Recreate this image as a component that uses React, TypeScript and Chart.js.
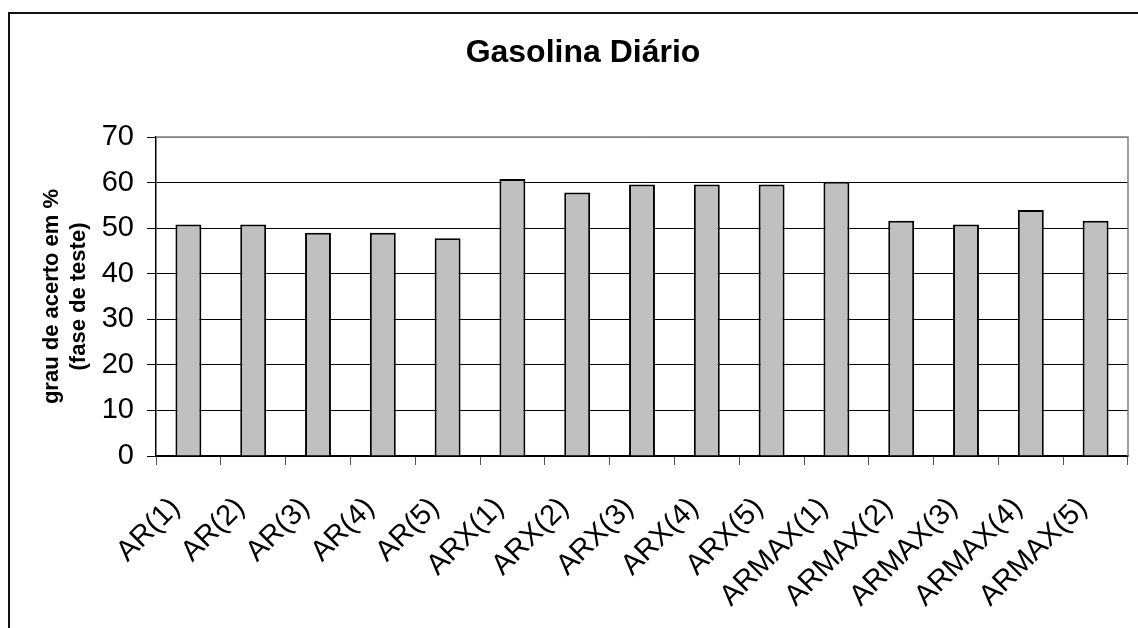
import React, { useEffect, useRef } from "react";
import { Chart, registerables } from "chart.js";

Chart.register(...registerables);

const chartTitle = "Gasolina Diário";
const yTitleLines = ["grau de acerto em %", "(fase de teste)"];
const categories = [
  "AR(1)", "AR(2)", "AR(3)", "AR(4)", "AR(5)",
  "ARX(1)", "ARX(2)", "ARX(3)", "ARX(4)", "ARX(5)",
  "ARMAX(1)", "ARMAX(2)", "ARMAX(3)", "ARMAX(4)", "ARMAX(5)",
];
const accuracy = [50.8, 50.8, 49.0, 49.0, 47.8, 60.8, 57.8, 59.6, 59.6, 59.6, 60.2, 51.6, 50.8, 54.0, 51.6];
const yMin = 0;
const yMax = 70;
const yStep = 10;

const FONT = "'Liberation Sans', Arial, sans-serif";

// Title text and the grey frame on the top/right of the plot area
const framePlugin = {
  id: "frameAndTitle",
  afterDraw(chart: any) {
    const { ctx, chartArea } = chart;
    ctx.save();
    ctx.strokeStyle = "#808080";
    ctx.lineWidth = 1.5;
    ctx.beginPath();
    ctx.moveTo(chartArea.left, chartArea.top);
    ctx.lineTo(chartArea.right, chartArea.top);
    ctx.lineTo(chartArea.right, chartArea.bottom);
    ctx.stroke();

    ctx.fillStyle = "#000";
    ctx.font = `bold 32px ${FONT}`;
    ctx.textAlign = "center";
    ctx.textBaseline = "middle";
    ctx.fillText(chartTitle, 583, 53);
    ctx.restore();
  },
};

export default function App() {
  const canvasRef = useRef<HTMLCanvasElement | null>(null);

  useEffect(() => {
    if (!canvasRef.current) return;
    const chart = new Chart(canvasRef.current, {
      type: "bar",
      data: {
        labels: categories,
        datasets: [
          {
            data: accuracy,
            backgroundColor: "#c0c0c0",
            borderColor: "#000",
            borderWidth: 2,
            barPercentage: 0.4,
            categoryPercentage: 1,
          },
        ],
      },
      options: {
        animation: false,
        responsive: true,
        maintainAspectRatio: false,
        layout: { padding: { top: 137, right: 10, left: 0, bottom: 0 } },
        plugins: {
          legend: { display: false },
          tooltip: { enabled: false },
          title: { display: false },
        },
        scales: {
          x: {
            grid: {
              display: true,
              drawOnChartArea: false,
              drawTicks: true,
              tickLength: 9,
              tickColor: "#555",
              offset: true,
            },
            border: { display: true, color: "#000", width: 1.5 },
            ticks: {
              color: "#000",
              font: { family: FONT, size: 29 },
              maxRotation: 45,
              minRotation: 45,
              padding: 26,
              labelOffset: -13,
              autoSkip: false,
            },
            afterFit(scale: any) {
              scale.height = 172;
              // rotated labels hang to the left only; keep the plot edges fixed
              scale.paddingLeft = 0;
              scale.paddingRight = 0;
            },
          },
          y: {
            min: yMin,
            max: yMax,
            ticks: {
              stepSize: yStep,
              color: "#000",
              font: { family: FONT, size: 29 },
              padding: 13,
            },
            grid: {
              color: (c: any) => (c.tick && c.tick.value === yMax ? "#808080" : "#000"),
              lineWidth: 1,
              tickLength: 9,
              tickColor: "#000",
            },
            border: { display: true, color: "#000", width: 1.5 },
            title: {
              display: true,
              text: yTitleLines,
              color: "#000",
              font: { family: FONT, size: 22, weight: "bold" },
              padding: { top: 39, bottom: 0 },
            },
            afterFit(scale: any) {
              scale.width = 156;
            },
          },
        },
      },
      plugins: [framePlugin],
    });
    return () => chart.destroy();
  }, []);

  return (
    <div style={{ position: "fixed", left: 0, top: 0, width: 1138, height: 628, background: "#fff" }}>
      <div
        style={{
          position: "absolute",
          left: 8,
          top: 12,
          width: 1130,
          height: 616,
          borderLeft: "2px solid #111",
          borderTop: "2px solid #111",
          boxSizing: "border-box",
        }}
      />
      <div style={{ position: "absolute", left: 0, top: 0, width: 1138, height: 628 }}>
        <canvas ref={canvasRef} />
      </div>
    </div>
  );
}
